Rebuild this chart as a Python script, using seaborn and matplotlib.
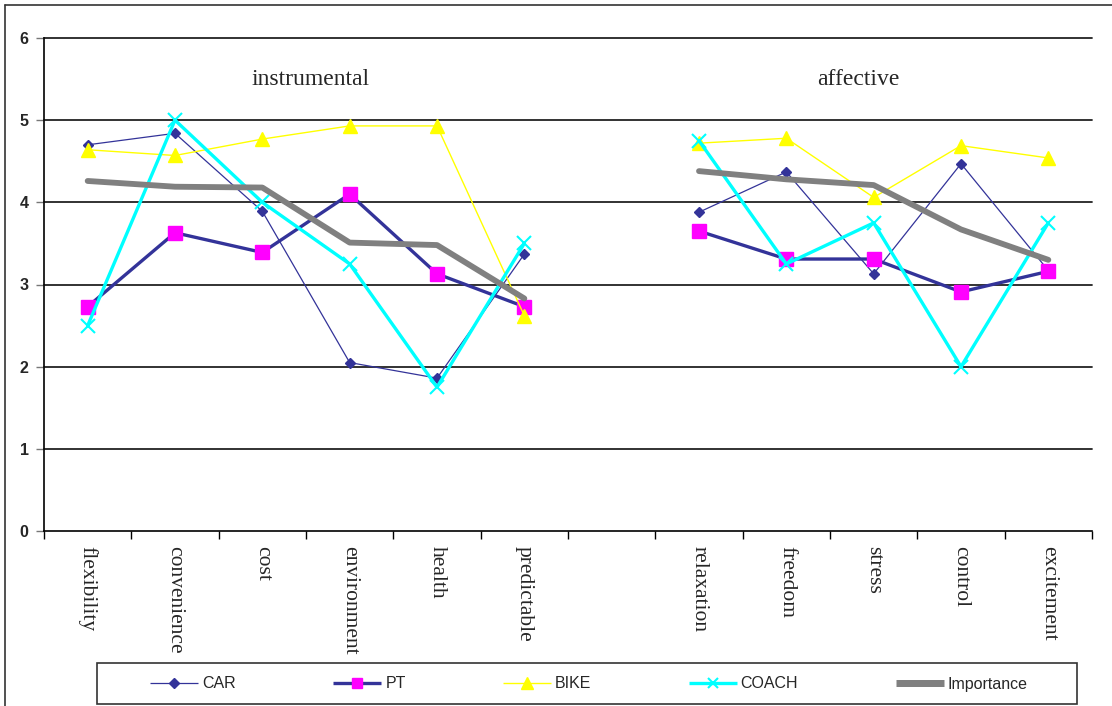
import matplotlib
matplotlib.use("Agg")
import matplotlib.pyplot as plt
import seaborn as sns
import pandas as pd
import numpy as np
from matplotlib.lines import Line2D
from matplotlib.patches import Rectangle

# categories (slot 6 is an empty spacer between the two groups)
instrumental = ["flexibility", "convenience", "cost", "environment", "health", "predictable"]
affective = ["relaxation", "freedom", "stress", "control", "excitement"]

car = [4.70, 4.84, 3.89, 2.05, 1.86, 3.37, 3.88, 4.37, 3.13, 4.47, 3.17]
pt = [2.73, 3.63, 3.39, 4.10, 3.13, 2.73, 3.65, 3.31, 3.31, 2.91, 3.16]
bike = [4.64, 4.57, 4.77, 4.93, 4.93, 2.62, 4.72, 4.78, 4.06, 4.69, 4.54]
coach = [2.50, 5.00, 4.00, 3.25, 1.75, 3.50, 4.75, 3.25, 3.75, 2.00, 3.75]
importance = [4.26, 4.19, 4.18, 3.51, 3.48, 2.83, 4.38, 4.28, 4.21, 3.67, 3.30]

series_names = ["CAR", "PT", "BIKE", "COACH", "Importance"]
series_values = [car, pt, bike, coach, importance]

labels = instrumental + [""] + affective
positions = list(range(len(instrumental))) + list(range(len(instrumental) + 1, len(labels)))
groups = ["instrumental"] * len(instrumental) + ["affective"] * len(affective)

rows = []
for name, vals in zip(series_names, series_values):
    for p, g, v in zip(positions, groups, vals):
        rows.append({"series": name, "pos": p, "group": g, "value": v})
df = pd.DataFrame(rows)

styles = {
    "CAR": dict(color="#333399", lw=0.9, marker="D", ms=5, lms=5, mfc="#333399", mec="#333399"),
    "PT": dict(color="#333399", lw=2.4, marker="s", ms=10, lms=7.5, mfc="#FF00FF", mec="#FF00FF"),
    "BIKE": dict(color="#FFFF00", lw=1.0, marker="^", ms=10, lms=8, mfc="#FFFF00", mec="#FFFF00"),
    "COACH": dict(color="#00FFFF", lw=2.4, marker="x", ms=10, lms=7, mfc="#00FFFF", mec="#00FFFF", mew=1.5),
    "Importance": dict(color="#808080", lw=4.2, marker=None, ms=0, lms=0),
}

sns.set_theme(style="white")
plt.rcParams["font.family"] = ["Liberation Sans", "DejaVu Sans"]
serif = ["Liberation Serif", "DejaVu Serif"]

fig = plt.figure(figsize=(11.12, 7.06), dpi=100)
ax = fig.add_axes([44 / 1112, 175 / 706, 1048 / 1112, 493 / 706])

for name in series_names:
    st = styles[name]
    sub = df[df["series"] == name]
    kw = dict(linewidth=st["lw"], color=st["color"])
    if st["marker"]:
        kw.update(marker=st["marker"], markersize=st["ms"],
                  markerfacecolor=st["mfc"], markeredgecolor=st["mec"],
                  markeredgewidth=st.get("mew", 1.0))
    sns.lineplot(data=sub, x="pos", y="value", units="group", estimator=None,
                 sort=True, ax=ax, legend=False, **kw)

ax.set_xlim(-0.5, len(labels) - 0.5)
ax.set_ylim(0, 6)
ax.set_yticks(range(0, 7))
ax.set_yticklabels([str(i) for i in range(7)], fontweight="bold", fontsize=11.5)
ax.yaxis.grid(False)
for yv in range(1, 7):
    ax.axhline(yv, color="#222222", linewidth=1.3, clip_on=False, zorder=0)

ax.set_xticks(np.arange(-0.5, len(labels)), minor=False)
ax.set_xticklabels([])
ax.set_xticks(np.arange(len(labels)), minor=True)
ax.set_xticklabels(labels, minor=True, rotation=-90, fontsize=15.5, family=serif, va="top")
ax.tick_params(axis="x", which="major", direction="out", length=6, width=1, color="black", bottom=True)
ax.tick_params(axis="x", which="minor", length=0, pad=11)
ax.tick_params(axis="y", direction="out", length=6, width=1, color="#777777", left=True, pad=5)
ax.set_xlabel("")
ax.set_ylabel("")

for side in ["top", "right"]:
    ax.spines[side].set_visible(False)
for side in ["left", "bottom"]:
    ax.spines[side].set_color("black")
    ax.spines[side].set_linewidth(1.2)

ax.text(2.55, 5.49, "instrumental", ha="center", va="center", fontsize=17, family=serif)
ax.text(8.82, 5.49, "affective", ha="center", va="center", fontsize=17, family=serif)

handles = []
for name in series_names:
    st = styles[name]
    handles.append(Line2D([0], [0], color=st["color"],
                          lw=st["lw"] * (1.2 if name == "Importance" else 1.0),
                          marker=st["marker"], markersize=st["lms"],
                          markerfacecolor=st.get("mfc"), markeredgecolor=st.get("mec"),
                          markeredgewidth=st.get("mew", 1.0), solid_capstyle="butt"))

# legend frame drawn separately so it can be wider than the entries
fig.add_artist(Rectangle((97 / 1112, 2 / 706), 980 / 1112, 41 / 706,
                         transform=fig.transFigure, fill=False,
                         edgecolor="#333333", linewidth=1.2))
leg = fig.legend(handles, series_names, loc="center",
                 bbox_to_anchor=(589 / 1112, 1 - 684 / 706),
                 ncol=5, frameon=False, fontsize=11.5, handlelength=3.0,
                 handletextpad=0.25, columnspacing=6.1, borderaxespad=0)

# outer chart border (left and top edges visible)
fig.add_artist(Line2D([5 / 1112, 5 / 1112], [0, 1 - 5 / 706], color="#333333", lw=1.2))
fig.add_artist(Line2D([5 / 1112, 1], [1 - 5 / 706, 1 - 5 / 706], color="#333333", lw=1.2))

fig.savefig("out.png", dpi=100)
